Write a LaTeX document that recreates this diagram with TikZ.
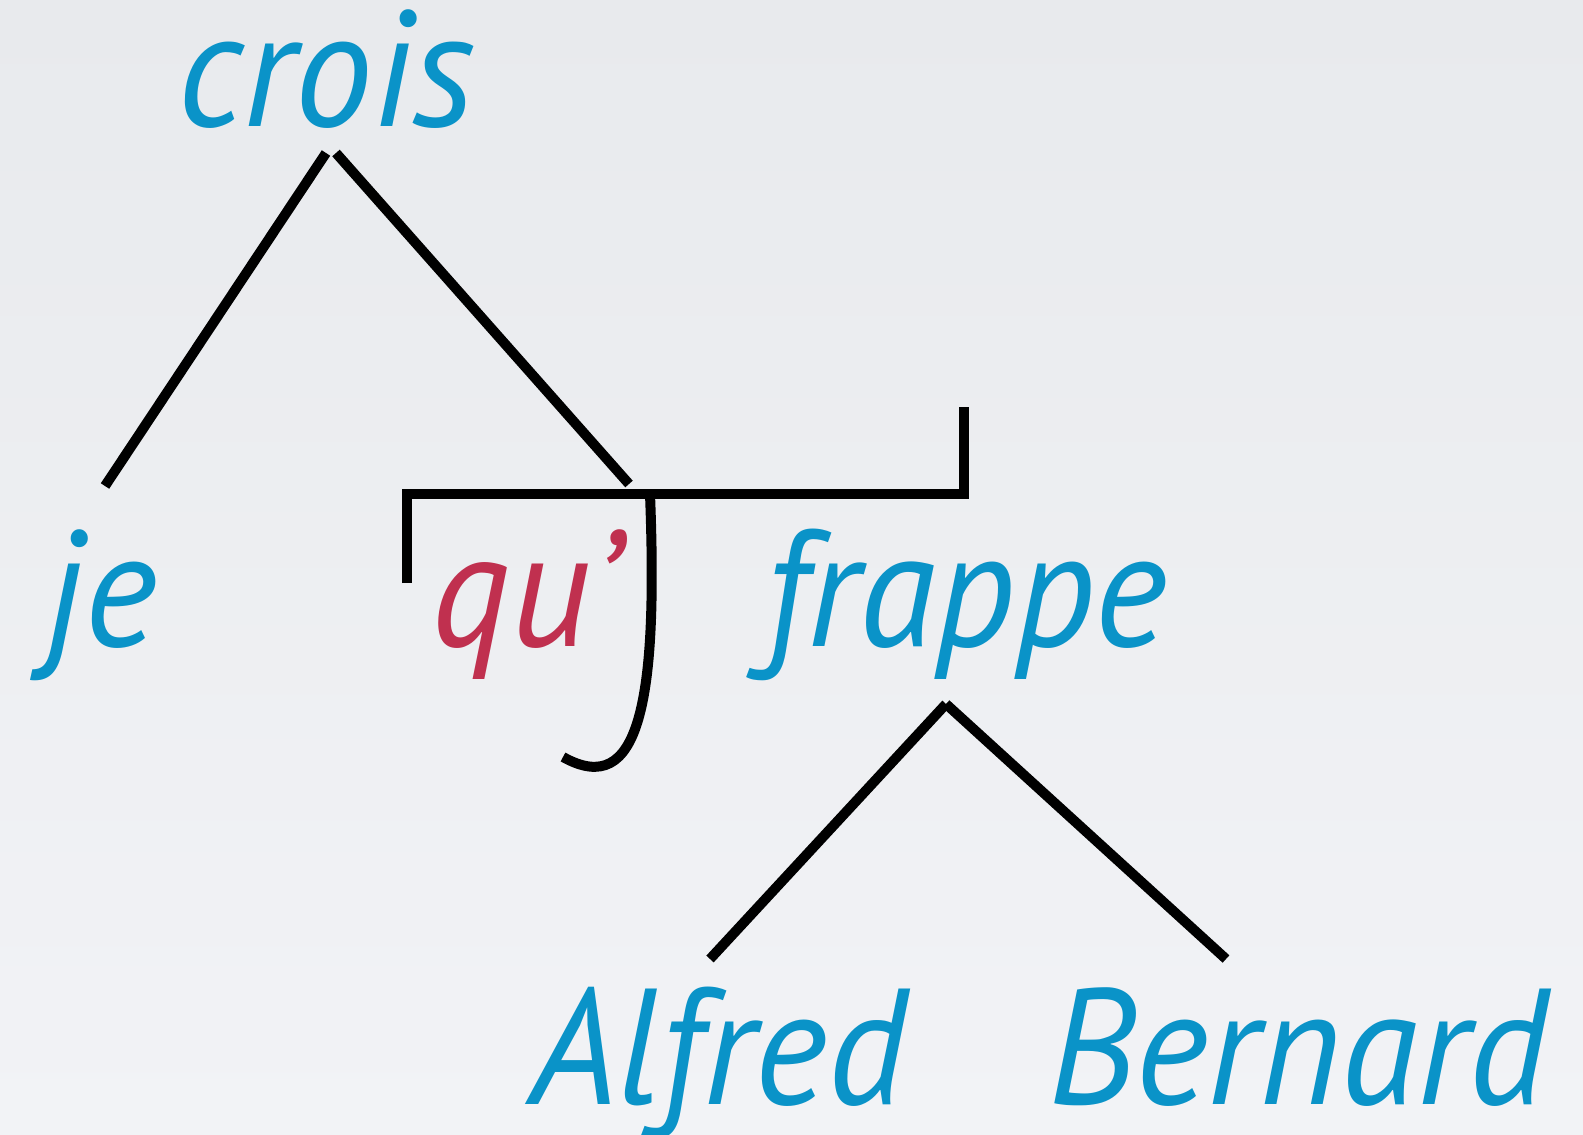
\documentclass[tikz,border=0pt]{standalone}
\usepackage{fontspec}
\setmainfont[FakeStretch=0.95]{PT Sans}
\definecolor{wblue}{HTML}{0A93C8}
\definecolor{wred}{HTML}{C0304F}
\definecolor{bgtop}{HTML}{E8EAED}
\definecolor{bgbot}{HTML}{F2F3F6}
\begin{document}
\begin{tikzpicture}[x=1pt,y=-1pt,
  word/.style={anchor=base west,inner sep=0pt,text=wblue,font=\fontsize{165}{165}\selectfont\itshape},
  rword/.style={word,text=wred},
  link/.style={line width=10pt,black}]
\shade[top color=bgtop,bottom color=bgbot] (0,0) rectangle (1583,1135);
\useasboundingbox (0,0) rectangle (1583,1135);
\node[word] (crois) at (177,126) {crois};
\node[word] (je) at (45,646) {je};
\node[rword] (qu) at (431,646) {qu’};
\node[word] (frappe) at (764,646) {frappe};
\node[word] (alfred) at (530,1104) {Alfred};
\node[word] (bernard) at (1048,1104) {Bernard};
\coordinate (cL) at (326,153);
\coordinate (cR) at (336,153);
\coordinate (jeT) at (105,486);
\coordinate (brT) at (629,484);
\coordinate (bLb) at (407,583);
\coordinate (bLt) at (407,494);
\coordinate (bRt) at (964,407);
\coordinate (bRb) at (964,499);
\coordinate (jTop) at (650,494);
\coordinate (jEnd) at (563,757);
\coordinate (fA) at (946,704);
\coordinate (fL) at (710,959);
\coordinate (fR) at (1226,959);
\draw[link] (cL) -- (jeT);
\draw[link] (cR) -- (brT);
\draw[link] (bLb) -- (bLt) -- (964,494) -- (bRt);
\draw[link] (jTop) .. controls (658,700) and (640,800) .. (jEnd);
\draw[link] (fA) -- (fL);
\draw[link] (fA) -- (fR);
\end{tikzpicture}
\end{document}
